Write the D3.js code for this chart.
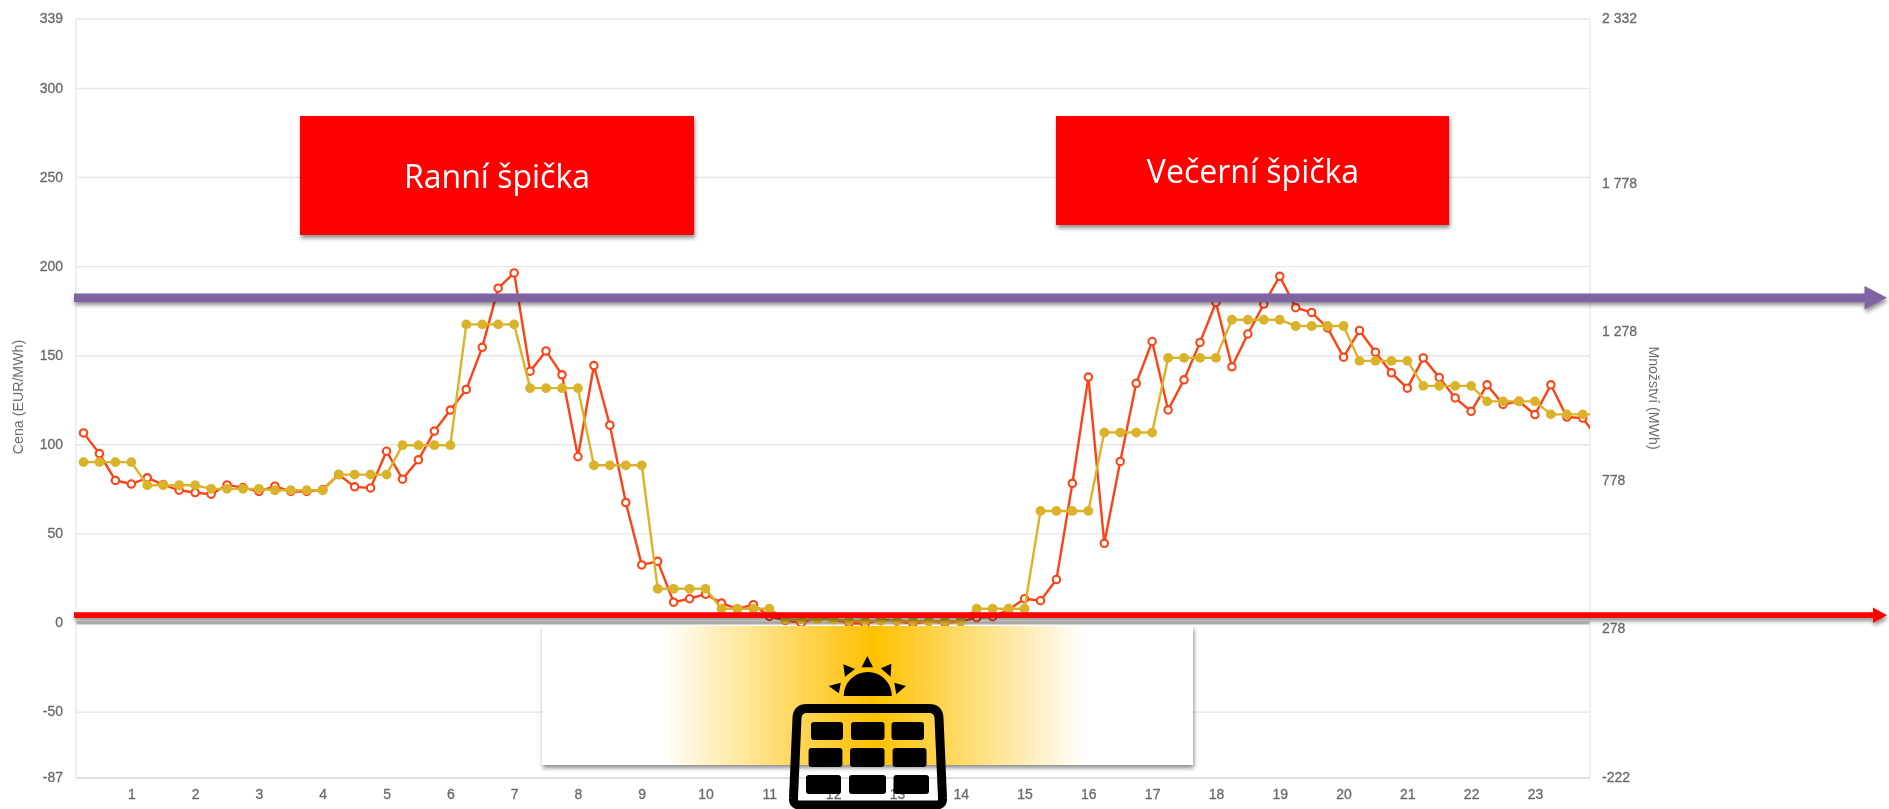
<!DOCTYPE html>
<html><head><meta charset="utf-8">
<script src="https://cdn.jsdelivr.net/npm/d3@7"></script>
<style>
html,body{margin:0;padding:0;background:#fff;overflow:hidden}
svg{display:block}
.tick text{font-family:"Liberation Sans",Arial,sans-serif;font-size:14px;fill:#6a6a6a;stroke:#6a6a6a;stroke-width:.3px}
.title{font-family:"Liberation Sans",Arial,sans-serif;font-size:14.2px;fill:#6e6e6e}
.label{font-family:"Open Sans",sans-serif;font-size:32px;fill:#fff;text-anchor:middle}
</style></head><body><svg id="c" width="1889" height="809"></svg>
<script>
const hourLabels = d3.range(1, 24);
const leftTicks = [-87, -50, 0, 50, 100, 150, 200, 250, 300, 339];
const rightTicks = [-222, 278, 778, 1278, 1778, 2332];
const price = [
 106.7,95.1,80,78, 81.5,77.7,74.5,73.2, 72.3,77.5,76,73.8, 76.8,73.8,73.8,74.9,
 83.3,76.4,75.8,96.4, 80.7,91.6,107.7,119.5, 131.1,154.7,187.9,196.5, 141.3,152.7,139.3,93.3,
 144.5,111,67.6,32.6, 34.6,11.7,13.6,16.2, 11.2,7.9,10.3,3.7, 1.5,0,3,2,
 0,-0.5,2,1, -0.2,1,0.2,0.8, 3,3.5,7.5,13.6, 12.5,24.4,78.4,138,
 44.7,90.7,134.5,158, 119.6,136.5,157.5,179.9, 143.8,162.2,179,194.6, 177,174.3,165.6,149.2,
 164.2,152,140.4,131.8, 148.8,137.8,126.3,118.8, 133.7,122.7,124.4,117, 133.7,115.6,115,103
];
const auction = [
 90.3,90.3,90.3,90.3, 77.3,77.3,77.3,77.3, 75.3,75.3,75.3,75.3, 74.5,74.5,74.5,74.5,
 83.3,83.3,83.3,83.3, 99.8,99.8,99.8,99.8, 167.6,167.6,167.6,167.6, 131.8,131.8,131.8,131.8,
 88.5,88.5,88.5,88.5, 19.2,19.2,19.2,19.2, 8,8,8,8, 2,2,2,2,
 1.2,1.2,1.2,1.2, 1,1,1,1, 8,8,8,8, 62.9,62.9,62.9,62.9,
 106.9,106.9,106.9,106.9, 148.8,148.8,148.8,148.8, 170.2,170.2,170.2,170.2, 166.7,166.7,166.7,166.7,
 147.1,147.1,147.1,147.1, 133.1,133.1,133.1,133.1, 124.4,124.4,124.4,124.4, 117.1,117.1,117.1,117.1
];
const peakLabels = ["Ranní špička", "Večerní špička"];

const plot = {l:76, r:1590, t:19, b:778};
const x = d3.scaleLinear().domain([0,95]).range([83.5, 83.5+95*15.95]);
const y = d3.scaleLinear().domain([-87,339]).range([plot.b, plot.t]);
const yR = d3.scaleLinear().domain([-222,2332]).range([plot.b, plot.t]);
const svg = d3.select("#c");
const defs = svg.append("defs");
const f = defs.append("filter").attr("id","sh").attr("x","-5%").attr("y","-50%").attr("width","110%").attr("height","300%");
f.append("feDropShadow").attr("dx",1).attr("dy",3).attr("stdDeviation",2.2).attr("flood-color","#000").attr("flood-opacity",.45);
const fs = defs.append("filter").attr("id","shl").attr("filterUnits","userSpaceOnUse").attr("x",0).attr("y",0).attr("width",1889).attr("height",809);
fs.append("feDropShadow").attr("dx",1).attr("dy",3).attr("stdDeviation",2.2).attr("flood-color","#000").attr("flood-opacity",.45);
const soft = defs.append("filter").attr("id","soft").attr("filterUnits","userSpaceOnUse").attr("x",0).attr("y",0).attr("width",1889).attr("height",809);
soft.append("feGaussianBlur").attr("stdDeviation",.45);
const g = defs.append("linearGradient").attr("id","sun");
[[0,"#fff"],[.5,"#ffc000"],[1,"#fff"]].forEach(s=>g.append("stop").attr("offset",s[0]).attr("stop-color",s[1]));
defs.append("clipPath").attr("id","pc").append("rect").attr("x",plot.l).attr("y",plot.t).attr("width",plot.r-plot.l).attr("height",plot.b-plot.t);

const chart = svg.append("g").attr("filter","url(#soft)");
// grid
chart.append("g").selectAll("line").data(leftTicks).join("line")
 .attr("x1",plot.l).attr("x2",plot.r).attr("y1",d=>y(d)).attr("y2",d=>y(d))
 .attr("stroke",d=>d===0?"#b8b8b8":d===-87?"#d4d4d4":"#e6e6e6").attr("stroke-width",d=>d===0?3:1.4);
chart.append("g").selectAll("line").data([plot.l,plot.r]).join("line")
 .attr("x1",d=>d).attr("x2",d=>d).attr("y1",plot.t).attr("y2",plot.b).attr("stroke","#e8e8e8").attr("stroke-width",1.4);

// axes
const hy = n => String(n).replace("\u2212","-");
const axL = chart.append("g").attr("transform",`translate(${plot.l},-0.8)`)
 .call(d3.axisLeft(y).tickValues(leftTicks).tickFormat(d=>hy(d)).tickSize(0).tickPadding(13));
const loc = d3.formatLocale({decimal:".",thousands:" ",grouping:[3],currency:["",""],minus:"-"});
const axR = chart.append("g").attr("transform",`translate(${plot.r},-1)`)
 .call(d3.axisRight(yR).tickValues(rightTicks).tickFormat(loc.format(",d")).tickSize(0).tickPadding(12));
const axB = chart.append("g").attr("transform",`translate(0,${plot.b})`)
 .call(d3.axisBottom(x).tickValues(hourLabels.map(h=>h*4-1)).tickFormat(d=>(d+1)/4).tickSize(0).tickPadding(11));
[axL,axR,axB].forEach(a=>a.select(".domain").remove());

chart.append("text").attr("class","title").attr("text-anchor","middle")
 .attr("transform","translate(23,397) rotate(-90)").text("Cena (EUR/MWh)");
chart.append("text").attr("class","title").attr("text-anchor","middle")
 .attr("transform","translate(1649,398) rotate(90)").text("Množství (MWh)");

// series
const line = d3.line().x((d,i)=>x(i)).y(d=>y(d));
const pl = chart.append("g").attr("clip-path","url(#pc)");
const redC = "#ff4213", yelC = "#dab32b";
pl.append("path").datum(price).attr("d",line).attr("fill","none").attr("stroke",redC).attr("stroke-width",2.4);
pl.append("g").selectAll("circle").data(price).join("circle")
 .attr("cx",(d,i)=>x(i)).attr("cy",d=>y(d)).attr("r",3.7)
 .attr("fill","#fff").attr("stroke",redC).attr("stroke-width",2.1);
pl.append("path").datum(auction).attr("d",line).attr("fill","none").attr("stroke",yelC).attr("stroke-width",2.4);
pl.append("g").selectAll("circle").data(auction).join("circle")
 .attr("cx",(d,i)=>x(i)).attr("cy",d=>y(d)).attr("r",4.9).attr("fill",yelC);

// overlays
const ov = svg.append("g").attr("filter","url(#soft)");
function box(px,py,w,h,fill){
 ov.append("rect").attr("x",px).attr("y",py).attr("width",w).attr("height",h).attr("fill",fill).attr("filter","url(#sh)");
}
function arrow(yc,th,x0,xh,xt,hh,fill){
 const p=[[x0,yc-th/2],[xh,yc-th/2],[xh,yc-hh],[xt,yc],[xh,yc+hh],[xh,yc+th/2],[x0,yc+th/2]];
 ov.append("polygon").attr("points",p.join(" ")).attr("fill",fill).attr("filter","url(#shl)");
}
arrow(297.8,8.4,74,1864.5,1887,11.7,"#8064a2");
arrow(615.2,5.8,74,1873,1887,7.8,"#ff0000");
box(300,116,394,119,"#ff0000");
box(1056,116,393,109,"#ff0000");
ov.append("text").attr("class","label").attr("x",497).attr("y",188).text(peakLabels[0]);
ov.append("text").attr("class","label").attr("x",1253).attr("y",183).text(peakLabels[1]);

// solar panel picture
box(542,626,651,139,"#fff");
ov.append("rect").attr("x",661).attr("y",626).attr("width",425).attr("height",139).attr("fill","url(#sun)");
const ic = ov.append("g").attr("fill","#000");
ic.append("path").attr("d","M807 708.5 H929 Q938.5 708.5 939 718 L942.5 798 Q943 805 936 805 H800 Q793 805 793.5 798 L797 718 Q797.5 708.5 807 708.5 Z")
 .attr("fill","none").attr("stroke","#000").attr("stroke-width",9);
const cells = [[811,722,32,18],[851,722,33.5,18],[891.5,722,32.5,18],
 [808.6,748,33.8,19],[850,748,34.5,19],[892.6,748,33.9,19],
 [806,775,35,19],[849,775,37,19],[893.5,775,35.5,19]];
ic.selectAll("rect").data(cells).join("rect")
 .attr("x",d=>d[0]).attr("y",d=>d[1]).attr("width",d=>d[2]).attr("height",d=>d[3]).attr("rx",3);
ic.append("path").attr("d","M843.7 696 A24 24 0 0 1 891.8 696 Z");
[[[867.3,656],[861.6,667.3],[873,667.3]],
 [[843.3,664.3],[855.1,669],[844.9,676.7]],
 [[891.4,663.7],[880.8,668.3],[890.6,676.7]],
 [[828.6,686],[840.8,682.7],[838.8,693.3]],
 [[906,686],[894.3,682.7],[896.3,694.3]]].forEach(t=>ic.append("polygon").attr("points",t.join(" ")));
</script></body></html>
